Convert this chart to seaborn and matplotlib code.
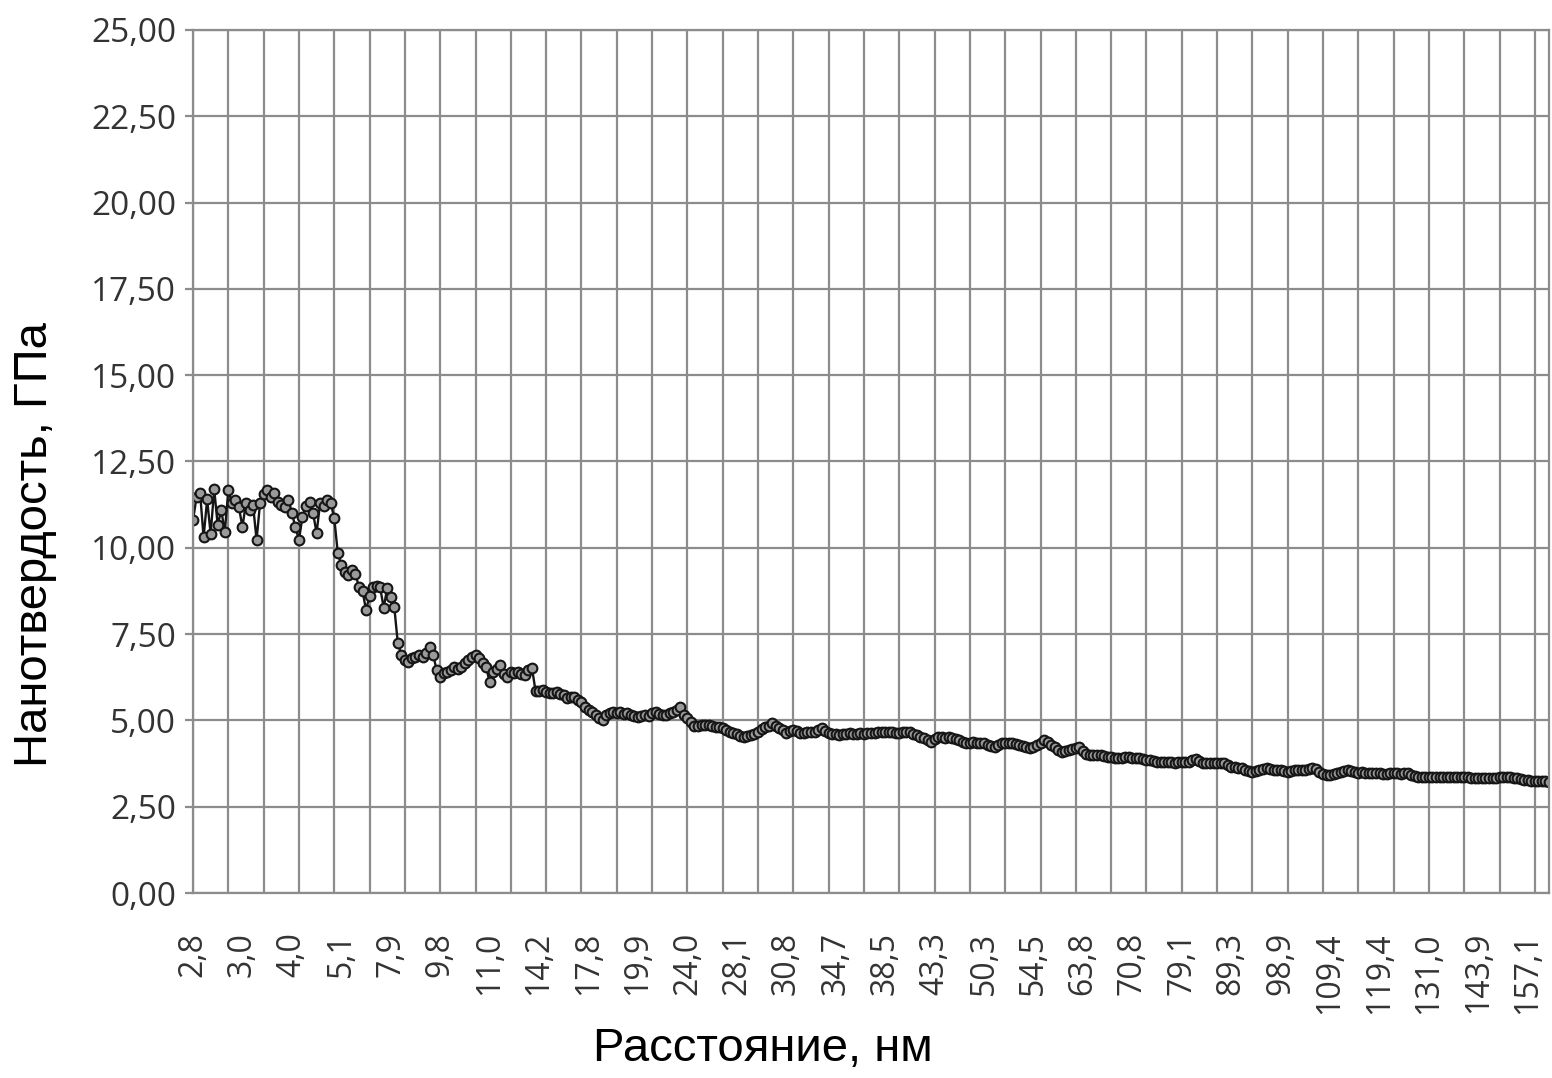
import matplotlib
matplotlib.use("Agg")
import matplotlib.pyplot as plt
import matplotlib.transforms as mtransforms
import seaborn as sns
import pandas as pd
import numpy as np

# ---- data ----
tick_labels = ["2,8", "3,0", "4,0", "5,1", "7,9", "9,8", "11,0", "14,2", "17,8", "19,9",
               "24,0", "28,1", "30,8", "34,7", "38,5", "43,3", "50,3", "54,5", "63,8", "70,8",
               "79,1", "89,3", "98,9", "109,4", "119,4", "131,0", "143,9", "157,1"]

hardness = [
    # 2,8 .. 3,0
    10.8, 11.47, 11.6, 10.3, 11.4, 10.4, 11.7, 10.65, 11.1, 10.45, 11.67, 11.3, 11.38, 11.18,
    # 3,0 .. 4,0
    10.6, 11.3, 11.1, 11.24, 10.23, 11.3, 11.55, 11.67, 11.47, 11.6, 11.33, 11.25, 11.18, 11.38,
    # 4,0 .. 5,1
    11.0, 10.6, 10.23, 10.9, 11.2, 11.33, 11.0, 10.43, 11.3, 11.2, 11.38, 11.3, 10.86, 9.85,
    # 5,1 .. 7,9
    9.5, 9.3, 9.2, 9.35, 9.25, 8.86, 8.75, 8.2, 8.6, 8.86, 8.9, 8.85, 8.26, 8.84,
    # 7,9 .. 9,8
    8.57, 8.28, 7.24, 6.9, 6.75, 6.69, 6.8, 6.84, 6.9, 6.84, 6.95, 7.13, 6.9, 6.46,
    # 9,8 .. 11,0
    6.26, 6.37, 6.4, 6.46, 6.55, 6.5, 6.55, 6.66, 6.75, 6.85, 6.9, 6.8, 6.66, 6.55,
    # 11,0 .. 14,2
    6.11, 6.4, 6.5, 6.6, 6.35, 6.26, 6.4, 6.38, 6.4, 6.35, 6.31, 6.45, 6.52, 5.85,
    # 14,2 .. 17,8
    5.85, 5.88, 5.82, 5.79, 5.8, 5.82, 5.76, 5.73, 5.65, 5.68, 5.68, 5.6, 5.53, 5.39,
    # 17,8 .. 19,9
    5.3, 5.24, 5.16, 5.08, 5.01, 5.15, 5.21, 5.24, 5.2, 5.24, 5.18, 5.21, 5.16, 5.14,
    # 19,9 .. 24,0
    5.1, 5.12, 5.16, 5.14, 5.2, 5.24, 5.18, 5.16, 5.15, 5.2, 5.24, 5.3, 5.39, 5.16,
    # 24,0 .. 28,1
    5.07, 4.95, 4.83, 4.85, 4.87, 4.86, 4.87, 4.84, 4.81, 4.8, 4.78, 4.72, 4.66, 4.63,
    # 28,1 .. 30,8
    4.6, 4.55, 4.52, 4.55, 4.58, 4.62, 4.66, 4.75, 4.81, 4.85, 4.92, 4.85, 4.78, 4.72,
    # 30,8 .. 34,7
    4.63, 4.68, 4.72, 4.68, 4.63, 4.63, 4.65, 4.66, 4.66, 4.72, 4.78, 4.7, 4.63, 4.62,
    # 34,7 .. 38,5
    4.6, 4.58, 4.6, 4.62, 4.63, 4.6, 4.62, 4.63, 4.6, 4.63, 4.63, 4.64, 4.66, 4.66,
    # 38,5 .. 43,3
    4.65, 4.66, 4.66, 4.64, 4.63, 4.65, 4.66, 4.66, 4.62, 4.58, 4.52, 4.49, 4.43, 4.37,
    # 43,3 .. 50,3
    4.45, 4.52, 4.52, 4.5, 4.52, 4.5, 4.45, 4.43, 4.37, 4.35, 4.35, 4.36, 4.35, 4.34,
    # 50,3 .. 54,5
    4.35, 4.3, 4.26, 4.23, 4.3, 4.35, 4.35, 4.34, 4.35, 4.32, 4.29, 4.27, 4.24, 4.2,
    # 54,5 .. 63,8
    4.24, 4.29, 4.35, 4.43, 4.38, 4.3, 4.23, 4.15, 4.08, 4.1, 4.14, 4.17, 4.2, 4.23,
    # 63,8 .. 70,8
    4.1, 4.02, 4.0, 4.0, 3.99, 4.0, 3.96, 3.94, 3.93, 3.92, 3.91, 3.92, 3.93, 3.94,
    # 70,8 .. 79,1
    3.92, 3.91, 3.9, 3.88, 3.86, 3.85, 3.82, 3.79, 3.8, 3.79, 3.8, 3.79, 3.78, 3.79,
    # 79,1 .. 89,3
    3.79, 3.8, 3.79, 3.85, 3.88, 3.82, 3.77, 3.77, 3.76, 3.77, 3.76, 3.78, 3.76, 3.72,
    # 89,3 .. 98,9
    3.66, 3.64, 3.62, 3.61, 3.57, 3.52, 3.5, 3.53, 3.55, 3.58, 3.62, 3.6, 3.56, 3.55,
    # 98,9 .. 109,4
    3.55, 3.52, 3.5, 3.52, 3.55, 3.55, 3.56, 3.57, 3.6, 3.62, 3.58, 3.5, 3.46, 3.43,
    # 109,4 .. 119,4
    3.42, 3.45, 3.48, 3.5, 3.53, 3.56, 3.52, 3.5, 3.49, 3.5, 3.48, 3.48, 3.47, 3.48,
    # 119,4 .. 131,0
    3.47, 3.46, 3.45, 3.47, 3.48, 3.47, 3.46, 3.47, 3.47, 3.43, 3.38, 3.36, 3.36, 3.37,
    # 131,0 .. 143,9
    3.36, 3.35, 3.36, 3.36, 3.35, 3.36, 3.37, 3.36, 3.35, 3.36, 3.36, 3.35, 3.33, 3.34,
    # 143,9 .. 157,1
    3.34, 3.33, 3.34, 3.33, 3.33, 3.34, 3.35, 3.36, 3.36, 3.35, 3.34, 3.33, 3.31, 3.28,
    # 157,1 ..
    3.26, 3.25, 3.24, 3.24, 3.25, 3.24, 3.23,
]

y_ticks = [0, 2.5, 5, 7.5, 10, 12.5, 15, 17.5, 20, 22.5, 25]
label_every = 14
grid_every = 10

df = pd.DataFrame({"idx": np.arange(len(hardness)), "H": hardness})

sns.set_style("white")
plt.rcParams["font.family"] = ["Open Sans", "DejaVu Sans"]

W, H = 1552, 1078
fig = plt.figure(figsize=(W / 100, H / 100), dpi=100)
ax = fig.add_axes([193 / W, (H - 893) / H, (1549 - 193) / W, (893 - 30) / H])

sns.lineplot(data=df, x="idx", y="H", ax=ax, color="#151515", linewidth=1.7,
             marker="o", markersize=7, markerfacecolor="#9a9a9a",
             markeredgecolor="#151515", markeredgewidth=1.5)

n = len(hardness)
ax.set_xlim(0, n - 1)
ax.set_ylim(0, 25)

grid_col = "#8c8c8c"
ax.set_yticks(y_ticks)
ax.set_yticklabels([f"{v:.2f}".replace(".", ",") for v in y_ticks], fontsize=24, color="#333333")

ax.xaxis.remove_overlapping_locs = False
ax.set_xticks(np.arange(0, n, grid_every))
ax.set_xticklabels([])
ax.set_xticks(np.arange(0, label_every * len(tick_labels), label_every), minor=True)
ax.set_xticklabels(tick_labels, minor=True, rotation=90, fontsize=23, color="#333333",
                   va="top", ha="center")
shift = mtransforms.ScaledTranslation(5 / 100, 0, fig.dpi_scale_trans)
for lbl in ax.get_xticklabels(minor=True):
    lbl.set_transform(lbl.get_transform() + shift)

ax.tick_params(axis="x", which="major", length=13, width=1.6, color=grid_col, direction="out")
ax.tick_params(axis="x", which="minor", length=0, pad=28)
ax.tick_params(axis="y", which="major", length=6, width=1.6, color=grid_col, pad=6, left=True)

ax.grid(True, which="major", color=grid_col, linewidth=1.6)
ax.set_axisbelow(True)
for s in ax.spines.values():
    s.set_color(grid_col)
    s.set_linewidth(1.6)
    s.set_visible(True)

ax.set_xlabel("Расстояние, нм", fontsize=34, family=["Liberation Sans", "DejaVu Sans"],
              color="black")
ax.xaxis.set_label_coords(0.42, -0.155)
ax.set_ylabel("Нанотвердость, ГПа", fontsize=34, family=["Liberation Sans", "DejaVu Sans"],
              color="black")
ax.yaxis.set_label_coords(-0.100, 0.404)

fig.savefig("out.png", dpi=100, facecolor="white")
